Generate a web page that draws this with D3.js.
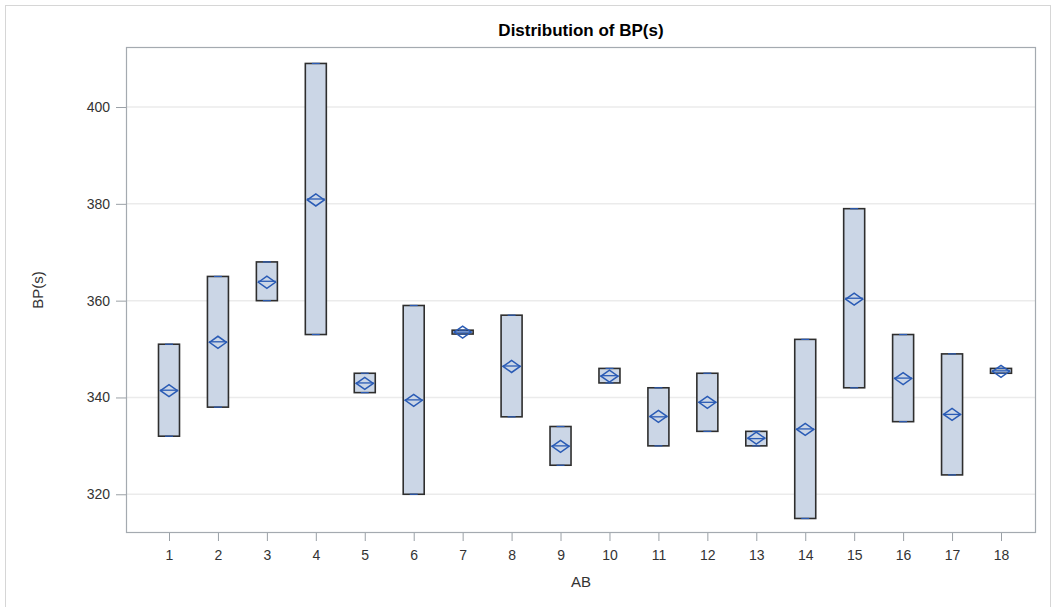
<!DOCTYPE html>
<html><head><meta charset="utf-8">
<script src="https://cdn.jsdelivr.net/npm/d3@7"></script>
<style>body{margin:0;background:#fff;}svg{display:block;font-family:"Liberation Sans",Arial,sans-serif;}</style>
</head><body><svg id="c" width="1057" height="607"></svg>
<script>
const categories = ["1","2","3","4","5","6","7","8","9","10","11","12","13","14","15","16","17","18"];
const minVals  = [332,338,360,353,341,320,353.1,336,326,343,330,333,330,315,342,335,324,345];
const maxVals  = [351,365,368,409,345,359,353.9,357,334,346,342,345,333,352,379,353,349,346];
const meanVals = [341.4,351.4,363.8,380.8,342.9,339.4,353.5,346.4,329.9,344.4,336.1,339,331.6,333.4,360.3,343.9,336.5,345.4];
const yTicks = [320,340,360,380,400];

const svg = d3.select("#c");
const L=126, R=1036, T=47, B=533;
svg.append("rect").attr("x",5.5).attr("y",5.5).attr("width",1045).attr("height",640)
  .attr("fill","none").attr("stroke","#d6d6d6");
const x = d3.scalePoint().domain(categories).range([169,1001]);
const y = d3.scaleLinear().domain([312,412.4]).range([B,T]);

// grid
svg.append("g").selectAll("line").data(yTicks).join("line")
  .attr("x1",L).attr("x2",R).attr("y1",d=>y(d)).attr("y2",d=>y(d))
  .attr("stroke","#ebebeb").attr("stroke-width",1.5);

// y axis
const ya = svg.append("g").attr("transform",`translate(${L},0)`)
  .call(d3.axisLeft(y).tickValues(yTicks).tickSize(10).tickPadding(6));
ya.select(".domain").remove();
ya.selectAll("line").attr("stroke","#9aa0a6");
ya.selectAll("text").attr("font-size",14).attr("fill","#333").attr("font-family","Liberation Sans, Arial, sans-serif");

// x axis
const xa = svg.append("g").attr("transform",`translate(0,${B})`)
  .call(d3.axisBottom(x).tickSize(8).tickPadding(9));
xa.select(".domain").remove();
xa.selectAll("line").attr("stroke","#9aa0a6");
xa.selectAll("text").attr("font-size",14).attr("fill","#333").attr("font-family","Liberation Sans, Arial, sans-serif");

// frame
svg.append("rect").attr("x",L+0.5).attr("y",T+0.5).attr("width",R-L-1).attr("height",B-T-1)
  .attr("fill","none").attr("stroke","#a4aab0").attr("stroke-width",1.2);

const bw = 21;
const g = svg.append("g");
const data = categories.map((c,i)=>({c,min:minVals[i],max:maxVals[i],mean:meanVals[i]}));
g.selectAll("rect.box").data(data).join("rect").attr("class","box")
  .attr("x",d=>x(d.c)-bw/2).attr("y",d=>y(d.max))
  .attr("width",bw).attr("height",d=>Math.max(1,y(d.min)-y(d.max)))
  .attr("fill","#cbd6e6").attr("stroke","#2e2e2e").attr("stroke-width",1.6);
// caps (blue)
g.selectAll("line.capT").data(data).join("line")
  .attr("x1",d=>x(d.c)-4).attr("x2",d=>x(d.c)+4).attr("y1",d=>y(d.max)).attr("y2",d=>y(d.max))
  .attr("stroke","#2a5bb5").attr("stroke-width",1.2);
g.selectAll("line.capB").data(data).join("line")
  .attr("x1",d=>x(d.c)-4).attr("x2",d=>x(d.c)+4).attr("y1",d=>y(d.min)).attr("y2",d=>y(d.min))
  .attr("stroke","#2a5bb5").attr("stroke-width",1.2);
// median line
g.selectAll("line.med").data(data).join("line")
  .attr("x1",d=>x(d.c)-bw/2+1.5).attr("x2",d=>x(d.c)+bw/2-1.5)
  .attr("y1",d=>y((d.min+d.max)/2)).attr("y2",d=>y((d.min+d.max)/2))
  .attr("stroke","#2a5bb5").attr("stroke-width",1.3);
// mean diamond
g.selectAll("path.mean").data(data).join("path")
  .attr("d",d=>{const cx=x(d.c), cy=y(d.mean); return `M${cx-8.5},${cy}L${cx},${cy-6}L${cx+8.5},${cy}L${cx},${cy+6}Z`;})
  .attr("fill","none").attr("stroke","#2a5bb5").attr("stroke-width",1.5);

// titles
svg.append("text").attr("x",(L+R)/2).attr("y",36).attr("text-anchor","middle")
  .attr("font-size",17).attr("font-weight","bold").attr("fill","#000").text("Distribution of BP(s)");
svg.append("text").attr("x",(L+R)/2).attr("y",587).attr("text-anchor","middle")
  .attr("font-size",15).attr("fill","#333").text("AB");
svg.append("text").attr("transform",`translate(43,${(T+B)/2}) rotate(-90)`).attr("text-anchor","middle")
  .attr("font-size",15).attr("fill","#333").text("BP(s)");
</script></body></html>
